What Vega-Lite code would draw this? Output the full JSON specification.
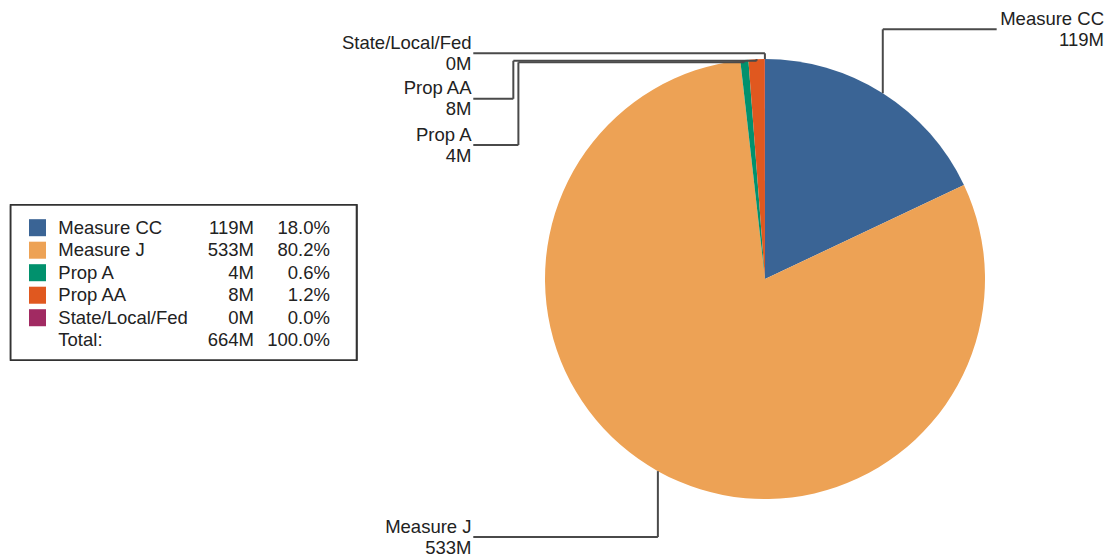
{
  "$schema": "https://vega.github.io/schema/vega-lite/v6.json",
  "width": 1107,
  "height": 558,
  "autosize": {"type": "none"},
  "padding": 0,
  "background": "white",
  "config": {
    "view": {"stroke": null},
    "text": {"font": "Liberation Sans", "fontSize": 18.5, "color": "#222"}
  },
  "data": {
    "values": [
      {"category": "Measure CC", "value": 119.4},
      {"category": "Measure J", "value": 532.7},
      {"category": "Prop A", "value": 3.9},
      {"category": "Prop AA", "value": 7.9},
      {"category": "State/Local/Fed", "value": 0.1}
    ]
  },
  "transform": [
    {"joinaggregate": [{"op": "sum", "field": "value", "as": "total"}]},
    {
      "window": [
        {"op": "sum", "field": "value", "as": "cum"},
        {"op": "row_number", "as": "row"}
      ],
      "sort": [{"field": "category"}],
      "frame": [null, 0]
    },
    {"calculate": "2 * PI * (datum.cum - datum.value / 2) / datum.total", "as": "mid"},
    {"calculate": "sin(datum.mid)", "as": "ax"},
    {"calculate": "cos(datum.mid)", "as": "ay"},
    {"calculate": "datum.category === 'Measure CC' ? 1.135 : datum.category === 'Measure J' ? -1.173 : datum.category === 'Prop A' ? 0.985 : datum.category === 'Prop AA' ? 0.992 : 1.026", "as": "ylev"},
    {"calculate": "datum.category === 'Measure CC' ? 1.053 : datum.category === 'Prop A' ? -1.121 : datum.category === 'Prop AA' ? -1.144 : -1.326", "as": "xbend"},
    {"calculate": "datum.category === 'Prop A' ? 0.609 : datum.category === 'Prop AA' ? 0.819 : datum.ylev", "as": "ylab"},
    {"calculate": "datum.ax > 0 ? 1.053 : -1.326", "as": "xlab"},
    {"calculate": "datum.ax > 0 ? 1.541 : -1.334", "as": "xtext"},
    {"calculate": "[datum.category, format(datum.value, '.0f') + 'M']", "as": "lbl"},
    {"calculate": "0.2332 - 0.1023 * (datum.row - 1)", "as": "ly"},
    {"calculate": "format(datum.value, '.0f') + 'M'", "as": "vtxt"},
    {"calculate": "format(datum.value / datum.total, '.1%')", "as": "ptxt"}
  ],
  "layer": [
    {
      "mark": {"type": "rect", "fill": "white", "stroke": "#333", "strokeWidth": 1.6},
      "encoding": {
        "x": {"datum": -3.4286, "type": "quantitative", "scale": {"domain": [-3.4773, 1.5545], "nice": false, "zero": false}, "axis": null},
        "x2": {"datum": -1.8568},
        "y": {"datum": 0.3364, "type": "quantitative", "scale": {"domain": [-1.2682, 1.2682], "nice": false, "zero": false}, "axis": null},
        "y2": {"datum": -0.3682}
      }
    },
    {
      "mark": {"type": "arc", "outerRadius": 220},
      "encoding": {
        "theta": {"field": "value", "type": "quantitative", "stack": true},
        "x": {"datum": 0, "type": "quantitative"},
        "y": {"datum": 0, "type": "quantitative"},
        "color": {
          "field": "category",
          "type": "nominal",
          "scale": {
            "domain": ["Measure CC", "Measure J", "Prop A", "Prop AA", "State/Local/Fed"],
            "range": ["#3a6495", "#eda255", "#01916d", "#e0581f", "#a12a62"]
          },
          "legend": null
        }
      }
    },
    {
      "mark": {"type": "rule", "stroke": "#4a4a4a", "strokeWidth": 2},
      "encoding": {
        "x": {"field": "ax", "type": "quantitative"},
        "y": {"field": "ay", "type": "quantitative"},
        "x2": {"field": "ax"},
        "y2": {"field": "ylev"}
      }
    },
    {
      "mark": {"type": "rule", "stroke": "#4a4a4a", "strokeWidth": 2},
      "encoding": {
        "x": {"field": "ax", "type": "quantitative"},
        "y": {"field": "ylev", "type": "quantitative"},
        "x2": {"field": "xbend"},
        "y2": {"field": "ylev"}
      }
    },
    {
      "mark": {"type": "rule", "stroke": "#4a4a4a", "strokeWidth": 2},
      "encoding": {
        "x": {"field": "xbend", "type": "quantitative"},
        "y": {"field": "ylev", "type": "quantitative"},
        "x2": {"field": "xbend"},
        "y2": {"field": "ylab"}
      }
    },
    {
      "mark": {"type": "rule", "stroke": "#4a4a4a", "strokeWidth": 2},
      "encoding": {
        "x": {"field": "xbend", "type": "quantitative"},
        "y": {"field": "ylab", "type": "quantitative"},
        "x2": {"field": "xlab"},
        "y2": {"field": "ylab"}
      }
    },
    {
      "mark": {"type": "text", "align": "right", "baseline": "middle", "lineHeight": 21, "dy": -10.5},
      "encoding": {
        "x": {"field": "xtext", "type": "quantitative"},
        "y": {"field": "ylab", "type": "quantitative"},
        "text": {"field": "lbl"}
      }
    },
    {
      "mark": {"type": "point", "shape": "square", "filled": true, "size": 290, "opacity": 1, "strokeWidth": 0},
      "encoding": {
        "x": {"datum": -3.3068, "type": "quantitative"},
        "y": {"field": "ly", "type": "quantitative"},
        "color": {"field": "category", "type": "nominal", "legend": null}
      }
    },
    {
      "mark": {"type": "text", "align": "left", "baseline": "middle"},
      "encoding": {
        "x": {"datum": -3.2123, "type": "quantitative"},
        "y": {"field": "ly", "type": "quantitative"},
        "text": {"field": "category"}
      }
    },
    {
      "mark": {"type": "text", "align": "right", "baseline": "middle"},
      "encoding": {
        "x": {"datum": -2.3227, "type": "quantitative"},
        "y": {"field": "ly", "type": "quantitative"},
        "text": {"field": "vtxt"}
      }
    },
    {
      "mark": {"type": "text", "align": "right", "baseline": "middle"},
      "encoding": {
        "x": {"datum": -1.9773, "type": "quantitative"},
        "y": {"field": "ly", "type": "quantitative"},
        "text": {"field": "ptxt"}
      }
    },
    {
      "transform": [
        {"aggregate": [{"op": "sum", "field": "value", "as": "sumv"}, {"op": "count", "as": "n"}]},
        {"calculate": "0.2332 - 0.1023 * datum.n", "as": "ty"},
        {"calculate": "format(datum.sumv, '.0f') + 'M'", "as": "vtxt"}
      ],
      "layer": [
        {
          "mark": {"type": "text", "align": "left", "baseline": "middle", "text": "Total:"},
          "encoding": {
            "x": {"datum": -3.2123, "type": "quantitative"},
            "y": {"field": "ty", "type": "quantitative"}
          }
        },
        {
          "mark": {"type": "text", "align": "right", "baseline": "middle"},
          "encoding": {
            "x": {"datum": -2.3227, "type": "quantitative"},
            "y": {"field": "ty", "type": "quantitative"},
            "text": {"field": "vtxt"}
          }
        },
        {
          "mark": {"type": "text", "align": "right", "baseline": "middle", "text": "100.0%"},
          "encoding": {
            "x": {"datum": -1.9773, "type": "quantitative"},
            "y": {"field": "ty", "type": "quantitative"}
          }
        }
      ]
    }
  ]
}
